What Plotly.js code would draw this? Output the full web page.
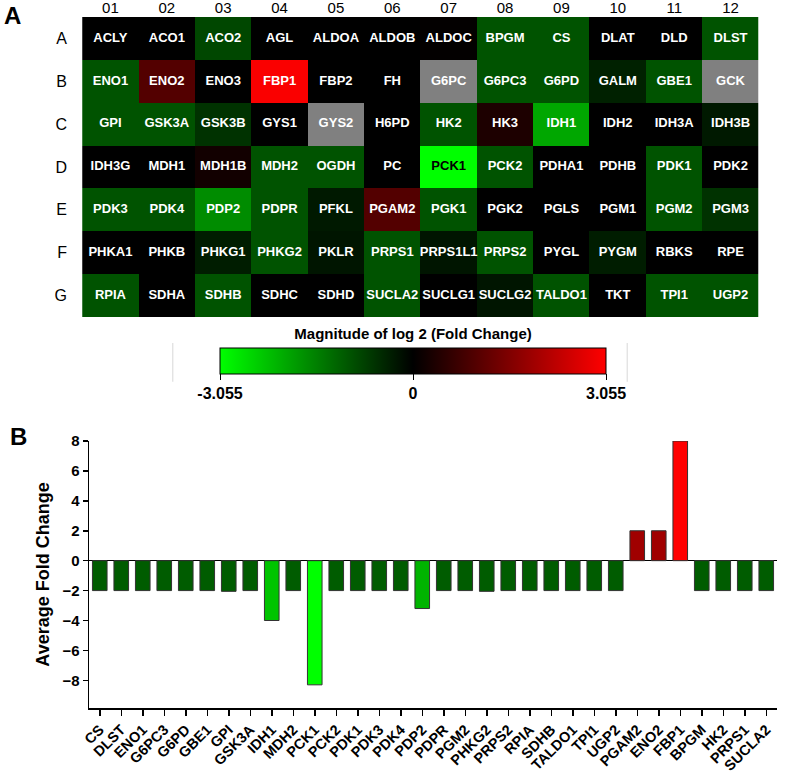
<!DOCTYPE html>
<html>
<head>
<meta charset="utf-8">
<script src="https://cdn.plot.ly/plotly-3.0.1.min.js"></script>
<style>
  html, body { margin: 0; padding: 0; background: #ffffff; }
  #chart { width: 800px; height: 776px; }
</style>
</head>
<body>
<div id="chart"></div>
<script>
// ---------- DATA ----------
const colLabels = ['01','02','03','04','05','06','07','08','09','10','11','12'];
const rowLabels = ['A','B','C','D','E','F','G'];

const geneNames = [
  ['ACLY','ACO1','ACO2','AGL','ALDOA','ALDOB','ALDOC','BPGM','CS','DLAT','DLD','DLST'],
  ['ENO1','ENO2','ENO3','FBP1','FBP2','FH','G6PC','G6PC3','G6PD','GALM','GBE1','GCK'],
  ['GPI','GSK3A','GSK3B','GYS1','GYS2','H6PD','HK2','HK3','IDH1','IDH2','IDH3A','IDH3B'],
  ['IDH3G','MDH1','MDH1B','MDH2','OGDH','PC','PCK1','PCK2','PDHA1','PDHB','PDK1','PDK2'],
  ['PDK3','PDK4','PDP2','PDPR','PFKL','PGAM2','PGK1','PGK2','PGLS','PGM1','PGM2','PGM3'],
  ['PHKA1','PHKB','PHKG1','PHKG2','PKLR','PRPS1','PRPS1L1','PRPS2','PYGL','PYGM','RBKS','RPE'],
  ['RPIA','SDHA','SDHB','SDHC','SDHD','SUCLA2','SUCLG1','SUCLG2','TALDO1','TKT','TPI1','UGP2']
];

// log2(fold change); null = not measured (grey cell)
const log2FC = [
  [0, 0, -0.85, 0, 0, 0, 0.03, -1, -1, 0, 0, -1],
  [-1, 1, 0, 3, 0, 0, null, -1, -1, -0.4, -1, null],
  [-1, -1, -0.6, 0, null, 0, -1, 0.35, -2, 0, 0, -0.3],
  [0, 0, 0.22, -1, -1, 0, -3.055, -1, 0, 0, -1, 0],
  [-1, -1, -1.68, -1, -0.3, 1, -1, 0, 0, 0, -1, -0.6],
  [0, 0, -0.35, -1, -0.25, -1, -0.25, -1, 0, -0.35, 0, 0],
  [-1, 0, -1, 0, 0, -1, 0, -0.25, -1, 0, -1, -1]
];

const cbMin = -3.055, cbMax = 3.055;
const cbTickText = ['-3.055', '0', '3.055'];

const barGenes = ['CS','DLST','ENO1','G6PC3','G6PD','GBE1','GPI','GSK3A','IDH1','MDH2','PCK1','PCK2',
  'PDK1','PDK3','PDK4','PDP2','PDPR','PGM2','PHKG2','PRPS2','RPIA','SDHB','TALDO1','TPI1','UGP2',
  'PGAM2','ENO2','FBP1','BPGM','HK2','PRPS1','SUCLA2'];
const barValues = [-2,-2,-2,-2,-2,-2,-2.05,-2,-4,-2,-8.3,-2,
  -2,-2,-2,-3.2,-2,-2,-2.05,-2,-2,-2,-2,-2,-2,
  2,2,8,-2,-2,-2,-2];
const yTicks = [-8,-6,-4,-2,0,2,4,6,8];

// ---------- STYLE HELPERS ----------
function barColor(v) {
  if (v >= 6) return '#ff0000';
  if (v > 0) return '#a00000';
  if (v <= -7) return '#00ff00';
  if (v <= -3.8) return '#00c400';
  if (v < -2.5) return '#00b400';
  return '#005c00';
}

const FONT = 'Arial, "Liberation Sans", sans-serif';

// grid coordinates derived from arrays
const cellX = [], cellY = [], cellT = [], cellC = [];
geneNames.forEach((row, r) => row.forEach((g, c) => {
  cellX.push(colLabels[c]);
  cellY.push(rowLabels[r]);
  cellT.push('<b>' + g + '</b>');
  const v = log2FC[r][c];
  cellC.push(v !== null && v <= -2.5 ? '#000000' : '#ffffff');
}));
const missingZ = log2FC.map(row => row.map(v => v === null ? 1 : null));

const traces = [
  {
    type: 'heatmap', x: colLabels, y: rowLabels, z: missingZ,
    colorscale: [[0,'#808080'],[1,'#808080']], showscale: false,
    xaxis: 'x', yaxis: 'y', hoverinfo: 'skip'
  },
  {
    type: 'heatmap', x: colLabels, y: rowLabels, z: log2FC,
    zmin: cbMin, zmax: cbMax,
    colorscale: [[0,'#00ff00'],[0.5,'#000000'],[1,'#ff0000']],
    xaxis: 'x', yaxis: 'y',
    colorbar: {
      orientation: 'h',
      x: 0.5163, xanchor: 'center',
      y: 0.573, yanchor: 'top',
      len: 386, lenmode: 'pixels',
      thickness: 26, thicknessmode: 'pixels',
      xpad: 0, ypad: 0,
      outlinecolor: '#000000', outlinewidth: 1,
      tickvals: [cbMin, 0, cbMax], ticktext: cbTickText,
      ticks: 'outside', ticklen: 6, tickcolor: '#000000',
      tickfont: {family: FONT, size: 16, color: '#000000', weight: 'bold'},
      title: {text: '<b>Magnitude of log 2 (Fold Change)</b>', side: 'top',
              font: {family: FONT, size: 15, color: '#000000'}}
    }
  },
  {
    type: 'scatter', mode: 'text', x: cellX, y: cellY, text: cellT,
    textfont: {family: FONT, size: 13, color: cellC},
    xaxis: 'x', yaxis: 'y', hoverinfo: 'skip', showlegend: false
  },
  {
    type: 'bar', x: barGenes, y: barValues,
    marker: {color: barValues.map(barColor), line: {color: '#333333', width: 1}},
    width: 0.68, xaxis: 'x2', yaxis: 'y2', showlegend: false
  }
];

const layout = {
  width: 800, height: 776,
  margin: {l: 0, r: 0, t: 0, b: 0},
  paper_bgcolor: '#ffffff', plot_bgcolor: '#ffffff',
  showlegend: false,
  font: {family: FONT, color: '#000000'},
  xaxis: {
    domain: [0.095, 0.95625], anchor: 'y', type: 'category', side: 'top',
    showgrid: false, zeroline: false, ticks: '', showline: false,
    tickfont: {family: FONT, size: 15, color: '#000000'},
    ticklabelstandoff: 0
  },
  yaxis: {
    domain: [0.5915, 0.9781], anchor: 'x', type: 'category', autorange: 'reversed',
    showgrid: false, zeroline: false, ticks: '', showline: false,
    tickfont: {family: FONT, size: 16, color: '#000000'},
    ticklabelstandoff: 8
  },
  xaxis2: {
    domain: [0.11125, 0.97125], anchor: 'y2', type: 'category',
    range: [-0.5, 31.5], showgrid: false, zeroline: false,
    showline: true, linecolor: '#000000', linewidth: 1.5,
    ticks: 'outside', ticklen: 6, tickwidth: 1.5, tickcolor: '#000000',
    tickangle: -45,
    tickfont: {family: FONT, size: 14.5, color: '#000000', weight: 'bold'}
  },
  yaxis2: {
    domain: [0.0876, 0.4317], anchor: 'x2',
    range: [-9.85, 8], tickvals: yTicks,
    showgrid: false, zeroline: true, zerolinecolor: '#000000', zerolinewidth: 1.5,
    showline: true, linecolor: '#000000', linewidth: 1.5,
    ticks: 'outside', ticklen: 5, tickwidth: 1.5, tickcolor: '#000000',
    tickfont: {family: FONT, size: 15, color: '#000000', weight: 'bold'},
    title: {text: '<b>Average Fold Change</b>', standoff: 8,
            font: {family: FONT, size: 18, color: '#000000'}}
  },
  annotations: [
    {text: '<b>A</b>', xref: 'paper', yref: 'paper', x: 0.003, y: 1.0, xanchor: 'left', yanchor: 'top',
     showarrow: false, font: {family: FONT, size: 24, color: '#000000'}},
    {text: '<b>B</b>', xref: 'paper', yref: 'paper', x: 0.01, y: 0.457, xanchor: 'left', yanchor: 'top',
     showarrow: false, font: {family: FONT, size: 24, color: '#000000'}}
  ],
  shapes: [
    {type: 'line', xref: 'paper', yref: 'paper', x0: 0.216, x1: 0.216, y0: 0.508, y1: 0.558,
     line: {color: '#d8d8d8', width: 1}},
    {type: 'line', xref: 'paper', yref: 'paper', x0: 0.784, x1: 0.784, y0: 0.508, y1: 0.558,
     line: {color: '#d8d8d8', width: 1}}
  ]
};

Plotly.newPlot('chart', traces, layout, {displayModeBar: false, staticPlot: true});
</script>
</body>
</html>
